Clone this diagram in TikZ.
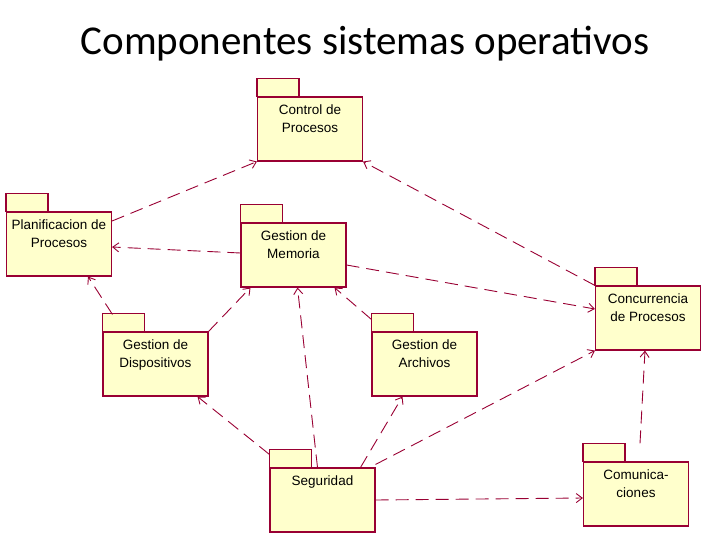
\documentclass[tikz,border=0pt]{standalone}
\usepackage{fontspec}
\setmainfont{Liberation Sans}
\newfontfamily\titlefont{Carlito}
\usetikzlibrary{arrows.meta}

\definecolor{pkgline}{RGB}{153,0,51}
\definecolor{pkgfill}{RGB}{255,255,204}
\newcommand{\pkgtext}[1]{\parbox[c][56pt][t]{104pt}{\centering\fontsize{13.5}{18}\selectfont\vspace*{4pt}#1}}
\newcommand{\pkgtab}[1]{\draw[pkgline, fill=pkgfill, line width=1.1pt] (#1.north west) rectangle ++(42pt,18pt);}

\begin{document}
\begin{tikzpicture}[x=1pt, y=-1pt,
  pkg/.style={draw=pkgline, fill=pkgfill, line width=1.1pt, rectangle,
    minimum width=105pt, minimum height=64pt, inner sep=0pt},
  dep/.style={draw=pkgline, line width=0.9pt, dash pattern=on 13pt off 7pt,
    -{Straight Barb[length=6pt,width=9pt]}}]
\useasboundingbox (0,0) rectangle (728,546);
\node[font=\titlefont\fontsize{41}{48}\selectfont] (title) at (365,44) {Componentes sistemas operativos};

\node[pkg] (ctrl) at (310,129) {\pkgtext{Control de\\Procesos}};
\node[pkg] (plan) at (59,244) {\pkgtext{Planificacion de\\Procesos}};
\node[pkg] (mem) at (293.5,255) {\pkgtext{Gestion de\\Memoria}};
\node[pkg] (disp) at (155.5,364) {\pkgtext{Gestion de\\Dispositivos}};
\node[pkg] (arch) at (424.5,364) {\pkgtext{Gestion de\\Archivos}};
\node[pkg] (conc) at (648,318) {\pkgtext{Concurrencia\\de Procesos}};
\node[pkg] (seg) at (322.5,500) {\pkgtext{Seguridad}};
\node[pkg] (com) at (636,494) {\pkgtext{Comunica-\\ciones}};
\pkgtab{ctrl}
\pkgtab{plan}
\pkgtab{mem}
\pkgtab{disp}
\pkgtab{arch}
\pkgtab{conc}
\pkgtab{seg}
\pkgtab{com}

\draw[dep] ([yshift=23pt]plan.east) -- (ctrl.south west);
\draw[dep] (conc.north west) -- (ctrl.south east);
\draw[dep] ([yshift=2pt]mem.west) -- ([yshift=-3pt]plan.east);
\draw[dep] ([yshift=-10pt]mem.east) -- ([yshift=9pt]conc.west);
\draw[dep] ([xshift=10pt,yshift=17pt]disp.north west) -- ([xshift=29pt]plan.south);
\draw[dep] (disp.north east) -- ([xshift=-43pt]mem.south);
\draw[dep] ([xshift=-5pt]seg.north) -- ([xshift=4pt]mem.south);
\draw[dep] ([yshift=12pt]arch.north west) -- ([xshift=41pt]mem.south);
\draw[dep] ([yshift=13pt]seg.north west) -- ([xshift=42pt]disp.south);
\draw[dep] ([xshift=38pt]seg.north) -- ([xshift=-22pt]arch.south);
\draw[dep] ([yshift=3pt]seg.north east) -- (conc.south west);
\draw[dep] (seg.east) -- ([yshift=-4pt]com.west);
\draw[dep] ([xshift=4pt,yshift=18pt]com.north) -- ([xshift=-3pt]conc.south);
\end{tikzpicture}
\end{document}
